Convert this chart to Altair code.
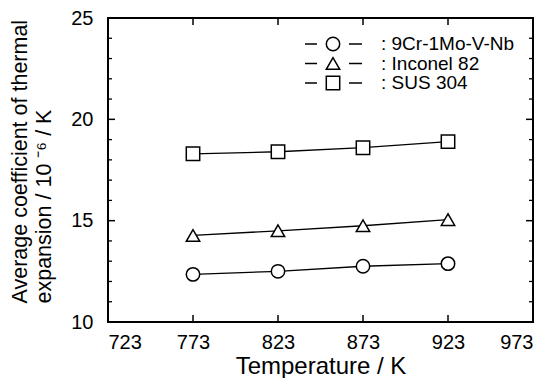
import altair as alt
import pandas as pd

# ---- data ----
temps = [773, 823, 873, 923]
series_names = ["9Cr-1Mo-V-Nb", "Inconel 82", "SUS 304"]
cr_vals = [12.35, 12.50, 12.75, 12.88]
inconel_vals = [14.27, 14.50, 14.75, 15.05]
sus_vals = [18.30, 18.40, 18.60, 18.90]

x_ticks = [723, 773, 823, 873, 923, 973]
x_inner_ticks = [773, 823, 873, 923]
y_ticks = [10, 15, 20, 25]
y_major_inner = [15, 20]
y_minor = [11, 12, 13, 14, 16, 17, 18, 19, 21, 22, 23, 24]

FONT = "Liberation Sans"
W, H = 425, 304
TOP = 10

rows = []
for name, vals in zip(series_names, [cr_vals, inconel_vals, sus_vals]):
    for t, v in zip(temps, vals):
        rows.append({"series": name, "T": t, "alpha": v})
df = pd.DataFrame(rows)

xscale = alt.Scale(domain=[723, 973], nice=False, zero=False)
yscale = alt.Scale(domain=[10, 25], nice=False, zero=False)
shape_scale = alt.Scale(domain=series_names, range=["circle", "triangle-up", "square"])

x_enc = alt.X(
    "T:Q", scale=xscale,
    axis=alt.Axis(values=x_ticks, format="d", ticks=False, tickSize=0, domain=False, grid=False,
                  labelFont=FONT, labelFontSize=20, labelColor="black", labelPadding=10,
                  title="Temperature / K", titleFont=FONT, titleFontSize=24,
                  titleFontWeight="normal", titleColor="black",
                  titleBaseline="alphabetic", titleY=51),
)
y_enc = alt.Y(
    "alpha:Q", scale=yscale,
    axis=alt.Axis(values=y_ticks, ticks=False, tickSize=0, domain=False, grid=False,
                  labelFont=FONT, labelFontSize=20, labelColor="black", labelPadding=15,
                  title=["Average coefficient of thermal", "expansion / 10 \u207b\u2076 / K"],
                  titleFont=FONT, titleFontSize=21.5, titleFontWeight="normal", titleColor="black",
                  titleAngle=270, titleAlign="left", titleBaseline="top",
                  titleLineHeight=24, titleX=-99, titleY=H - 19),
)

lines = alt.Chart(df).mark_line(color="black", strokeWidth=1.3).encode(
    x=x_enc, y=y_enc, detail="series:N"
)

points = alt.Chart(df).mark_point(
    filled=True, fill="white", stroke="black", strokeWidth=1.5, size=180, opacity=1
).encode(
    x=alt.X("T:Q", scale=xscale),
    y=alt.Y("alpha:Q", scale=yscale),
    shape=alt.Shape("series:N", scale=shape_scale, legend=None),
)

# ---- hand-drawn legend (dash - marker - dash  :  name) ----
leg = pd.DataFrame({"series": series_names})
leg["row"] = range(len(series_names))
leg_base = alt.Chart(leg).transform_calculate(
    ly="26 + 19.5 * datum.row", label="': ' + datum.series"
)
ly = alt.Y("ly:Q", scale=None)
leg_dash1 = leg_base.mark_rule(color="black", strokeWidth=1.5).encode(
    y=ly, x=alt.value(197), x2=alt.value(209))
leg_dash2 = leg_base.mark_rule(color="black", strokeWidth=1.5).encode(
    y=ly, x=alt.value(241), x2=alt.value(254))
leg_sym = leg_base.mark_point(
    filled=True, fill="white", stroke="black", strokeWidth=1.5, size=180, opacity=1
).encode(
    y=ly, x=alt.value(225),
    shape=alt.Shape("series:N", scale=shape_scale, legend=None),
)
leg_text = leg_base.mark_text(
    align="left", baseline="middle", font=FONT, fontSize=19, color="black"
).encode(y=ly, x=alt.value(273), text="label:N")

# ---- inward ticks ----
bx = alt.Chart(pd.DataFrame({"t": x_inner_ticks}))
bottom_ticks = bx.mark_rule(color="black", strokeWidth=1.5).encode(
    x=alt.X("t:Q", scale=xscale), y=alt.value(H), y2=alt.value(H - 7))
top_ticks = bx.mark_rule(color="black", strokeWidth=1.5).encode(
    x=alt.X("t:Q", scale=xscale), y=alt.value(0), y2=alt.value(7))

ymaj = alt.Chart(pd.DataFrame({"v": y_major_inner}))
ymin = alt.Chart(pd.DataFrame({"v": y_minor}))
left_major = ymaj.mark_rule(color="black", strokeWidth=1.5).encode(
    y=alt.Y("v:Q", scale=yscale), x=alt.value(0), x2=alt.value(7))
right_major = ymaj.mark_rule(color="black", strokeWidth=1.5).encode(
    y=alt.Y("v:Q", scale=yscale), x=alt.value(W), x2=alt.value(W - 7))
left_minor = ymin.mark_rule(color="black", strokeWidth=1.3).encode(
    y=alt.Y("v:Q", scale=yscale), x=alt.value(0), x2=alt.value(4))
right_minor = ymin.mark_rule(color="black", strokeWidth=1.3).encode(
    y=alt.Y("v:Q", scale=yscale), x=alt.value(W), x2=alt.value(W - 4))

chart = alt.layer(
    lines, bottom_ticks, top_ticks, left_major, right_major, left_minor, right_minor,
    points, leg_dash1, leg_dash2, leg_sym, leg_text
).properties(
    width=W, height=H,
    autosize=alt.AutoSizeParams(type="none"),
    padding={"left": 100, "top": TOP, "right": 9, "bottom": 56},
    background="white",
).configure_view(stroke="black", strokeWidth=2)

chart.save("out.html", embed_options={"renderer": "svg", "actions": False})
